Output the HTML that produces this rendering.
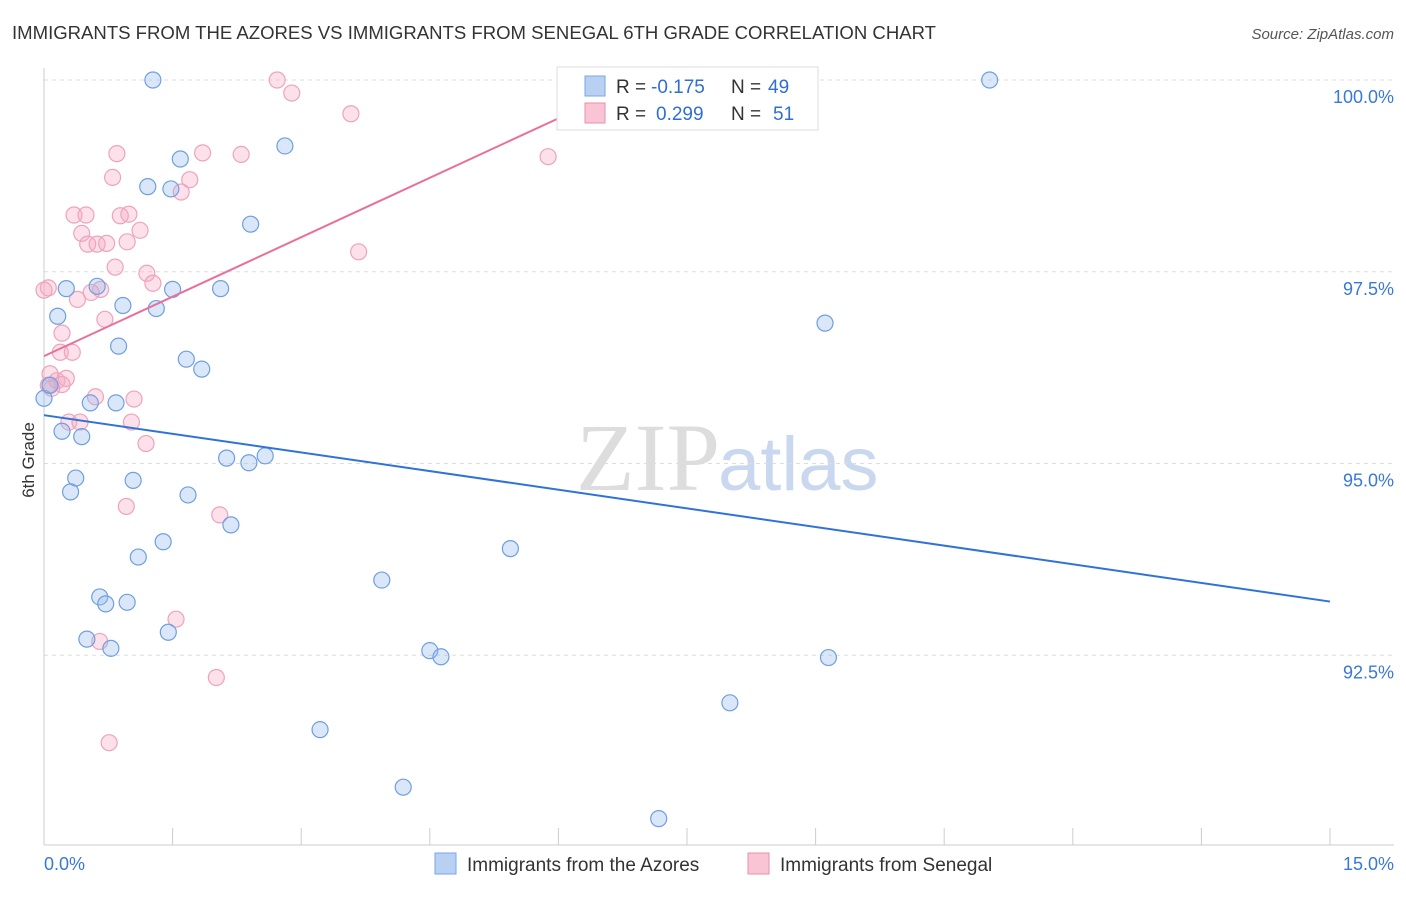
<!DOCTYPE html>
<html><head><meta charset="utf-8"><style>
body{margin:0;background:#fff;font-family:"Liberation Sans",sans-serif;}
</style></head><body>
<svg width="1406" height="892" xmlns="http://www.w3.org/2000/svg">
<text x="12" y="39" font-size="18" fill="#333" textLength="924" lengthAdjust="spacingAndGlyphs">IMMIGRANTS FROM THE AZORES VS IMMIGRANTS FROM SENEGAL 6TH GRADE CORRELATION CHART</text>
<text x="1394" y="39" font-size="15" fill="#555" font-style="italic" text-anchor="end">Source: ZipAtlas.com</text>
<text x="720" y="490" font-size="96" fill="#ddd" text-anchor="end" font-family="Liberation Serif">ZIP</text>
<text x="718" y="490" font-size="76" fill="#c9d8ef">atlas</text>
<g id="grid"></g><g id="axes"></g><g id="marks"></g>
<text x="34" y="460" font-size="17" fill="#333" transform="rotate(-90 34 460)" text-anchor="middle">6th Grade</text>
<g>
<rect x="557" y="67" width="261" height="63" fill="#fff" stroke="#ddd"/>
<rect x="585" y="76" width="20" height="20" fill="#b8d1f3" stroke="#7aa6e6"/>
<rect x="585" y="103" width="20" height="20" fill="#f9c4d4" stroke="#eb8fae"/>
<text x="616" y="93" font-size="19" fill="#333">R =</text>
<text x="651" y="93" font-size="19" fill="#2f6fd3">-0.175</text>
<text x="731" y="93" font-size="19" fill="#333">N =</text>
<text x="768" y="93" font-size="19" fill="#2f6fd3">49</text>
<text x="616" y="120" font-size="19" fill="#333">R =</text>
<text x="656" y="120" font-size="19" fill="#2f6fd3">0.299</text>
<text x="731" y="120" font-size="19" fill="#333">N =</text>
<text x="773" y="120" font-size="19" fill="#2f6fd3">51</text>
</g>
<g>
<rect x="435" y="853" width="21" height="21" fill="#b8d1f3" stroke="#7aa6e6"/>
<text x="467" y="871" font-size="19" fill="#333">Immigrants from the Azores</text>
<rect x="748" y="853" width="21" height="21" fill="#f9c4d4" stroke="#eb8fae"/>
<text x="780" y="871" font-size="19" fill="#333">Immigrants from Senegal</text>
</g>
</svg>
<script>
const yTicks=[100,97.5,95,92.5];
const yTickLabels=["100.0%","97.5%","95.0%","92.5%"];
const xTicks=[0,1.5,3,4.5,6,7.5,9,10.5,12,13.5,15];
const azoresX=[1.27,11.03,1.59,1.21,1.48,2.81,2.41,0.62,0.26,1.50,2.06,0.92,1.31,0.16,9.11,0.87,1.66,1.84,0,0.84,0.54,0.21,0.44,2.13,2.39,2.58,0.37,1.04,0.31,1.68,2.18,1.39,1.10,5.44,3.94,0.65,0.97,0.72,0.50,0.78,1.45,4.50,4.63,9.15,8.00,3.22,4.19,7.17,0.07];
const azoresY=[100.0,100.0,98.97,98.61,98.58,99.14,98.12,97.31,97.28,97.27,97.28,97.06,97.02,96.92,96.83,96.53,96.36,96.23,95.85,95.79,95.79,95.42,95.35,95.07,95.01,95.10,94.81,94.78,94.63,94.59,94.20,93.98,93.78,93.89,93.48,93.26,93.19,93.17,92.71,92.59,92.80,92.56,92.48,92.47,91.88,91.53,90.78,90.37,96.02];
const senegalX=[2.72,2.89,3.58,5.88,0.85,1.85,2.30,0.80,1.70,1.60,0.35,0.49,0.89,0.99,1.12,0.44,0.51,0.62,0.73,0.97,3.67,0.83,1.20,1.27,0.66,0.55,0.39,0.05,0.71,0.21,0.19,0.33,0.07,0.15,0.26,0.21,0.09,0.60,1.05,1.02,0.29,0.42,1.19,0.96,2.05,1.54,0.65,2.01,0.76,0,0.05];
const senegalY=[100.0,99.83,99.56,99.00,99.04,99.05,99.03,98.73,98.70,98.54,98.24,98.24,98.23,98.25,98.04,98.00,97.86,97.86,97.87,97.89,97.76,97.56,97.48,97.35,97.27,97.23,97.14,97.29,96.88,96.70,96.45,96.45,96.17,96.08,96.11,96.03,95.98,95.87,95.84,95.54,95.54,95.54,95.26,94.44,94.33,92.97,92.68,92.21,91.36,97.26,96.02];
const azoresTrend=[0,95.63,15,93.20];
const senegalTrend=[0,96.40,6.0,99.50];
const NS="http://www.w3.org/2000/svg";
const xs=v=>44+v/15*1286, ys=v=>80+(100-v)*76.7;
function mk(t,a,p){const e=document.createElementNS(NS,t);for(const k in a)e.setAttribute(k,a[k]);p.appendChild(e);return e;}
const grid=document.getElementById('grid'),axes=document.getElementById('axes'),marks=document.getElementById('marks');
yTicks.forEach((t,i)=>{
 const l=mk('line',{x1:44,x2:1394,y1:ys(t),y2:ys(t),stroke:'#ddd','stroke-dasharray':'4,4'},grid);
 
 
 const tx=mk('text',{x:1394,y:ys(t)+23,'font-size':18,fill:'#3a78d8','text-anchor':'end'},axes);
 tx.textContent=yTickLabels[i];
 
 
});
const ax=mk('line',{x1:44,x2:1394,y1:845,y2:845,stroke:'#ccc'},axes);


const ay=mk('line',{x1:44,x2:44,y1:68,y2:845,stroke:'#ccc'},axes);


xTicks.forEach(t=>{const l=mk('line',{x1:xs(t),x2:xs(t),y1:828,y2:845,stroke:'#ccc'},axes);
 
 });
const x0=mk('text',{x:44,y:870,'font-size':18,fill:'#3a78d8'},axes);x0.textContent='0.0%';


const x1=mk('text',{x:1394,y:870,'font-size':18,fill:'#3a78d8','text-anchor':'end'},axes);x1.textContent='15.0%';


senegalX.forEach((x,i)=>{const c=mk('circle',{cx:xs(x),cy:ys(senegalY[i]),r:8,fill:'rgba(246,170,195,0.35)',stroke:'#eea3bc','stroke-width':1.2},marks);
 
 });
azoresX.forEach((x,i)=>{const c=mk('circle',{cx:xs(x),cy:ys(azoresY[i]),r:8,fill:'rgba(150,185,235,0.35)',stroke:'#6f9fe0','stroke-width':1.2},marks);
 
 });
const tb=mk('line',{x1:xs(azoresTrend[0]),y1:ys(azoresTrend[1]),x2:xs(azoresTrend[2]),y2:ys(azoresTrend[3]),stroke:'#2f72d8','stroke-width':2},marks);


const tp=mk('line',{x1:xs(senegalTrend[0]),y1:ys(senegalTrend[1]),x2:xs(senegalTrend[2]),y2:ys(senegalTrend[3]),stroke:'#e8709a','stroke-width':2},marks);


</script>
</body></html>
